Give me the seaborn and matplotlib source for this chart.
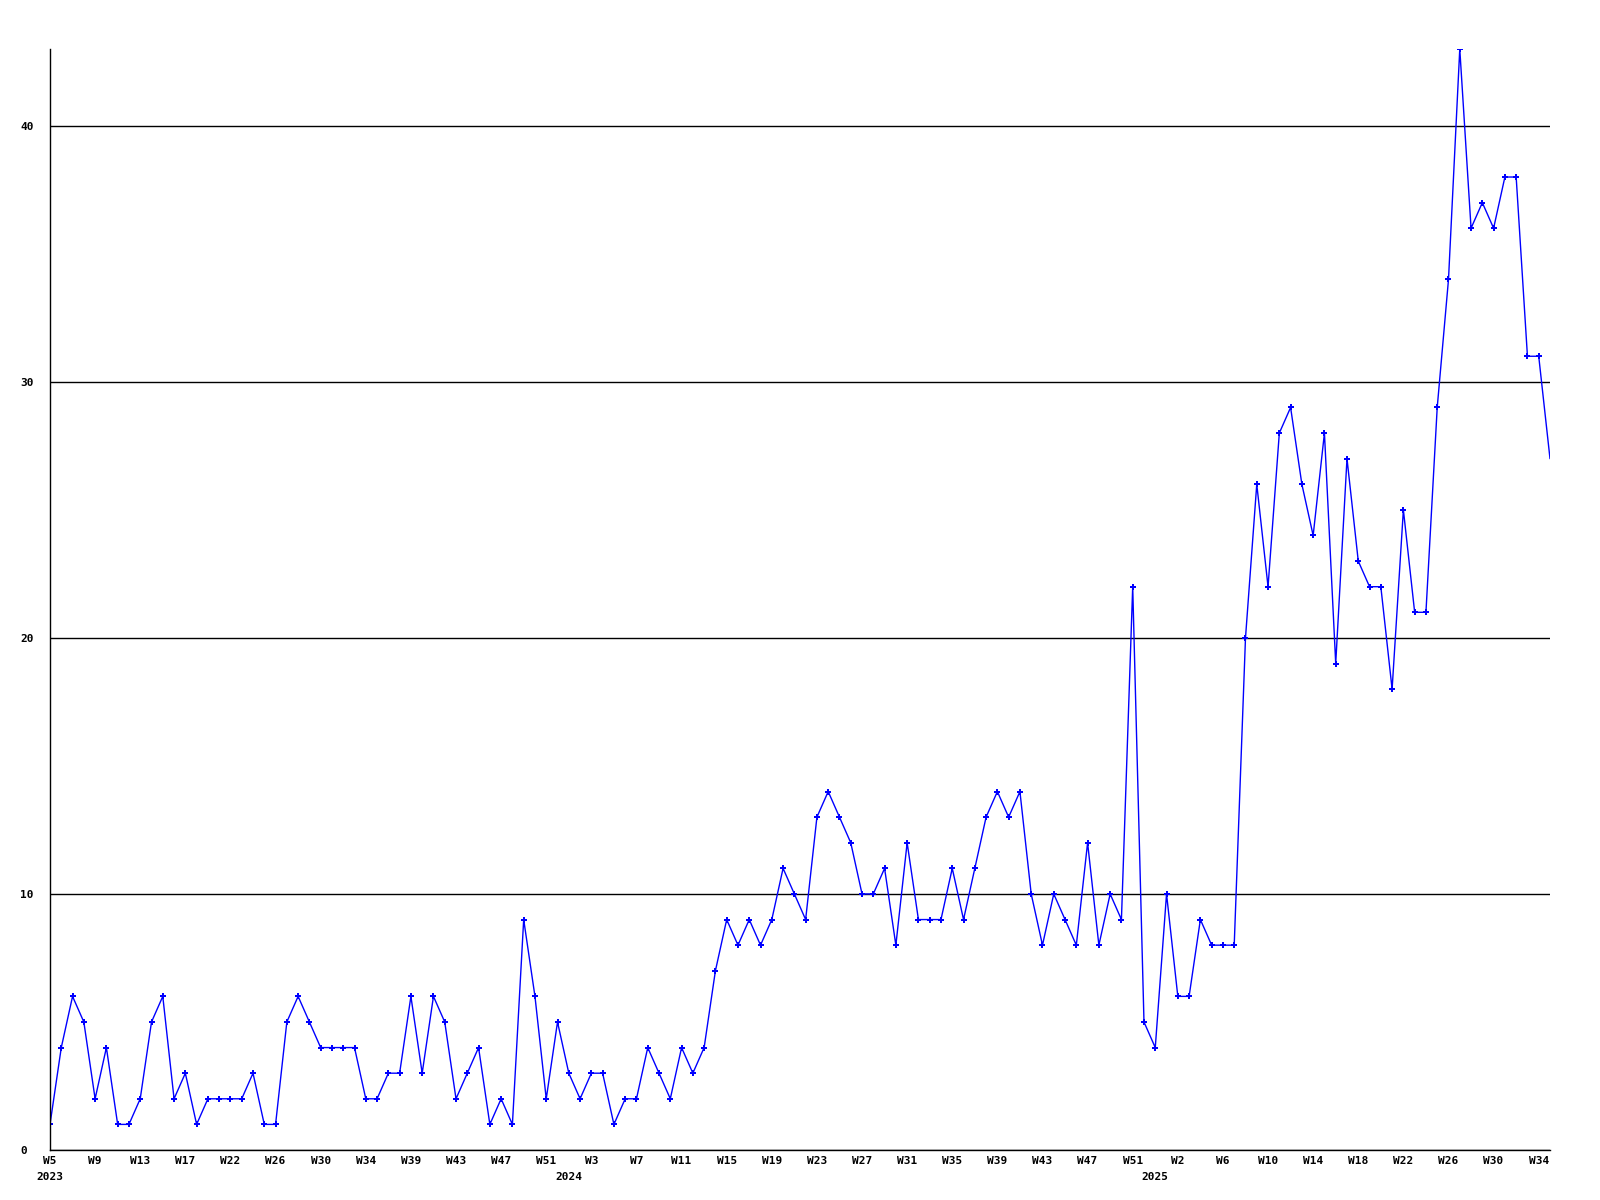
import matplotlib
matplotlib.use("Agg")
import matplotlib.pyplot as plt
import seaborn as sns
import pandas as pd

# weekly counts, 2023 W5 .. 2025 W35
values = [
    1, 4, 6, 5, 2, 4, 1, 1, 2, 5, 6, 2, 3, 1, 2, 2, 2, 2, 3, 1,
    1, 5, 6, 5, 4, 4, 4, 4, 2, 2, 3, 3, 6, 3, 6, 5, 2, 3, 4, 1,
    2, 1, 9, 6, 2, 5, 3, 2, 3, 3, 1, 2, 2, 4, 3, 2, 4, 3, 4, 7,
    9, 8, 9, 8, 9, 11, 10, 9, 13, 14, 13, 12, 10, 10, 11, 8, 12, 9, 9, 9,
    11, 9, 11, 13, 14, 13, 14, 10, 8, 10, 9, 8, 12, 8, 10, 9, 22, 5, 4, 10,
    6, 6, 9, 8, 8, 8, 20, 26, 22, 28, 29, 26, 24, 28, 19, 27, 23, 22, 22, 18,
    25, 21, 21, 29, 34, 43, 36, 37, 36, 38, 38, 31, 31, 27,
]

week_labels = [
    "W5", "W9", "W13", "W17", "W22", "W26", "W30", "W34", "W39", "W43",
    "W47", "W51", "W3", "W7", "W11", "W15", "W19", "W23", "W27", "W31",
    "W35", "W39", "W43", "W47", "W51", "W2", "W6", "W10", "W14", "W18",
    "W22", "W26", "W30", "W34",
]
years = ["2023", "2024", "2025"]
year_start = [0, 46, 98]  # index of the first week shown for each year
y_ticks = [0, 10, 20, 30, 40]

df = pd.DataFrame({"week": range(len(values)), "count": values})

sns.set_style("white")
plt.rcParams["font.family"] = ["DejaVu Sans Mono", "DejaVu Sans"]
plt.rcParams["font.weight"] = "bold"

fig = plt.figure(figsize=(16, 12), dpi=100)
ax = fig.add_axes([50 / 1600, 1 - 1150 / 1200, 1500 / 1600, 1101 / 1200])

sns.lineplot(data=df, x="week", y="count", ax=ax, color="#0000ff",
             linewidth=1.0, marker="P", markersize=4.5, markeredgewidth=0,
             markevery=list(range(len(values) - 1)))

ax.set_xlim(0, len(values) - 1)
ax.set_ylim(0, max(values))

ax.set_yticks(y_ticks)
ax.set_yticklabels([str(v) for v in y_ticks])
ax.yaxis.grid(True, color="black", linewidth=1.0)
ax.xaxis.grid(False)

ax.set_xticks(list(range(0, len(values), 4)))
ax.set_xticklabels(week_labels)
ax.xaxis.remove_overlapping_locs = False
ax.set_xticks(year_start, labels=years, minor=True)

ax.tick_params(axis="both", which="both", length=0, labelsize=8, colors="black")
ax.tick_params(axis="x", which="major", pad=4)
ax.tick_params(axis="x", which="minor", pad=15.5)
ax.tick_params(axis="y", pad=21.6)
for lab in ax.get_yticklabels():
    lab.set_horizontalalignment("left")

for side in ["top", "right"]:
    ax.spines[side].set_visible(False)
for side in ["left", "bottom"]:
    ax.spines[side].set_color("black")
    ax.spines[side].set_linewidth(1.0)

ax.set_xlabel("")
ax.set_ylabel("")

fig.savefig("out.png", dpi=100, facecolor="white")
